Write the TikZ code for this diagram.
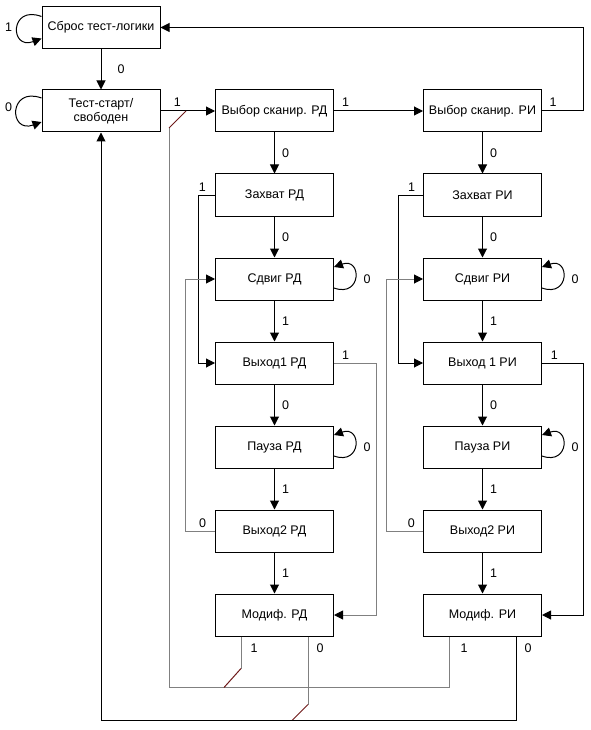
\documentclass[tikz,border=0pt]{standalone}
\usepackage{fontspec}
\setmainfont{Liberation Sans}
\usetikzlibrary{arrows.meta,calc}
\definecolor{lgray}{RGB}{128,128,128}
\definecolor{dred}{RGB}{110,25,25}
\begin{document}
\begin{tikzpicture}[x=1pt,y=-1pt,
  box/.style={draw,line width=1pt,minimum width=118pt,minimum height=42pt,inner sep=0pt,font=\fontsize{12.5}{14}\selectfont,align=center},
  lbl/.style={inner sep=0pt,font=\fontsize{12.5}{14}\selectfont},
  arr/.style={line width=1pt,-{Triangle[length=9pt,width=9pt]}},
  gl/.style={line width=1pt,draw=lgray},
  garr/.style={gl,-{Triangle[length=9pt,width=9pt,color=black]}},
  dg/.style={line width=1pt,draw=dred}]
\useasboundingbox (0,0) rectangle (590,730);
% nodes
\node[box] (sbros) at (101,27.5) {Сброс тест-логики};
\node[box] (test) at (101,111) {Тест-старт/\\свободен};
\node[box] (vrd) at (274.5,111) {Выбор сканир. РД};
\node[box] (vri) at (482.5,111) {Выбор сканир. РИ};
\node[box] (zrd) at (274.5,195) {Захват РД};
\node[box] (srd) at (274.5,279) {Сдвиг РД};
\node[box] (v1rd) at (274.5,363) {Выход1 РД};
\node[box] (prd) at (274.5,447) {Пауза РД};
\node[box] (v2rd) at (274.5,531) {Выход2 РД};
\node[box] (mrd) at (274.5,615) {Модиф. РД};
\node[box] (zri) at (482.5,195) {Захват РИ};
\node[box] (sri) at (482.5,279) {Сдвиг РИ};
\node[box] (v1ri) at (482.5,363) {Выход 1 РИ};
\node[box] (pri) at (482.5,447) {Пауза РИ};
\node[box] (v2ri) at (482.5,531) {Выход2 РИ};
\node[box] (mri) at (482.5,615) {Модиф. РИ};
\coordinate (j1) at (186,111);
\coordinate (k1) at (169,128);
% main arrows
\draw[arr] (sbros) -- node[lbl,right=16pt]{0} (test);
\draw[arr] (test) -- node[lbl,pos=.31,above=4pt]{1} (vrd);
\draw[arr] (vrd) -- node[lbl,pos=.13,above=4pt]{1} (vri);
\draw[arr] (vri.east) -- node[lbl,pos=.27,above=4pt]{1} ++(41.5pt,0) |- (sbros.east);
% columns
\foreach \c in {rd,ri}{
  \draw[arr] (v\c) -- node[lbl,right=7pt]{0} (z\c);
  \draw[arr] (z\c) -- node[lbl,right=7pt]{0} (s\c);
  \draw[arr] (s\c) -- node[lbl,right=7pt]{1} (v1\c);
  \draw[arr] (v1\c) -- node[lbl,right=7pt]{0} (p\c);
  \draw[arr] (p\c) -- node[lbl,right=7pt]{1} (v2\c);
  \draw[arr] (v2\c) -- node[lbl,right=7pt]{1} (m\c);
  \draw[arr] ([yshift=-9pt]s\c.east) .. controls +(28pt,-10pt) and +(28pt,10pt) .. ([yshift=12pt]s\c.east);
  \node[lbl] at ([xshift=33pt]s\c.east) {0};
  \draw[arr] ([yshift=-9pt]p\c.east) .. controls +(28pt,-10pt) and +(28pt,10pt) .. ([yshift=12pt]p\c.east);
  \node[lbl] at ([xshift=33pt]p\c.east) {0};
}
% self loops left
\draw[arr] ([yshift=11pt]sbros.west) .. controls +(-32pt,12pt) and +(-32pt,-12pt) .. ([yshift=-11pt]sbros.west);
\node[lbl] at ([xshift=-33pt]sbros.west) {1};
\draw[arr] ([yshift=13pt]test.west) .. controls +(-33pt,12pt) and +(-33pt,-12pt) .. ([yshift=-11pt]test.west);
\node[lbl] at ([xshift=-33pt,yshift=4pt]test.west) {0};
% feedback RD
\draw[arr] (zrd.west) -- node[lbl,pos=.76,above=3pt]{1} ++(-16.5pt,0) |- (v1rd.west);
\draw[garr] (v2rd.west) -- node[lbl,pos=.42,above=3pt]{0} ++(-29.5pt,0) |- (srd.west);
\draw[garr] (v1rd.east) -- node[lbl,pos=.27,above=3pt]{1} ++(42.5pt,0) |- (mrd.east);
% feedback RI
\draw[arr] (zri.west) -- node[lbl,pos=.47,above=3pt]{1} ++(-24.5pt,0) |- (v1ri.west);
\draw[garr] (v2ri.west) -- node[lbl,pos=.32,above=3pt]{0} ++(-36.5pt,0) |- (sri.west);
\draw[arr] (v1ri.east) -- node[lbl,pos=.3,above=3pt]{1} ++(41.5pt,0) |- (mri.east);
% bottom returns
\draw[gl] ([xshift=-33.5pt]mri.south) -- ++(0,51) -| (k1);
\draw[dg] (k1) -- (j1);
\node[lbl] at ([xshift=-18.5pt,yshift=-12pt]mri.south) {1};
\draw[gl] ([xshift=-33.5pt]mrd.south) -- ++(0,32) coordinate (m1);
\draw[dg] (m1) -- ++(-17,19);
\node[lbl] at ([xshift=-20.5pt,yshift=-12pt]mrd.south) {1};
\draw[gl] ([xshift=33.5pt]mrd.south) -- ++(0,68) coordinate (m0);
\draw[dg] (m0) -- ++(-16,16);
\node[lbl] at ([xshift=45.5pt,yshift=-12pt]mrd.south) {0};
\draw[arr] ([xshift=33.5pt]mri.south) -- ++(0,84) -| (test.south);
\node[lbl] at ([xshift=45.5pt,yshift=-12pt]mri.south) {0};
\end{tikzpicture}
\end{document}
